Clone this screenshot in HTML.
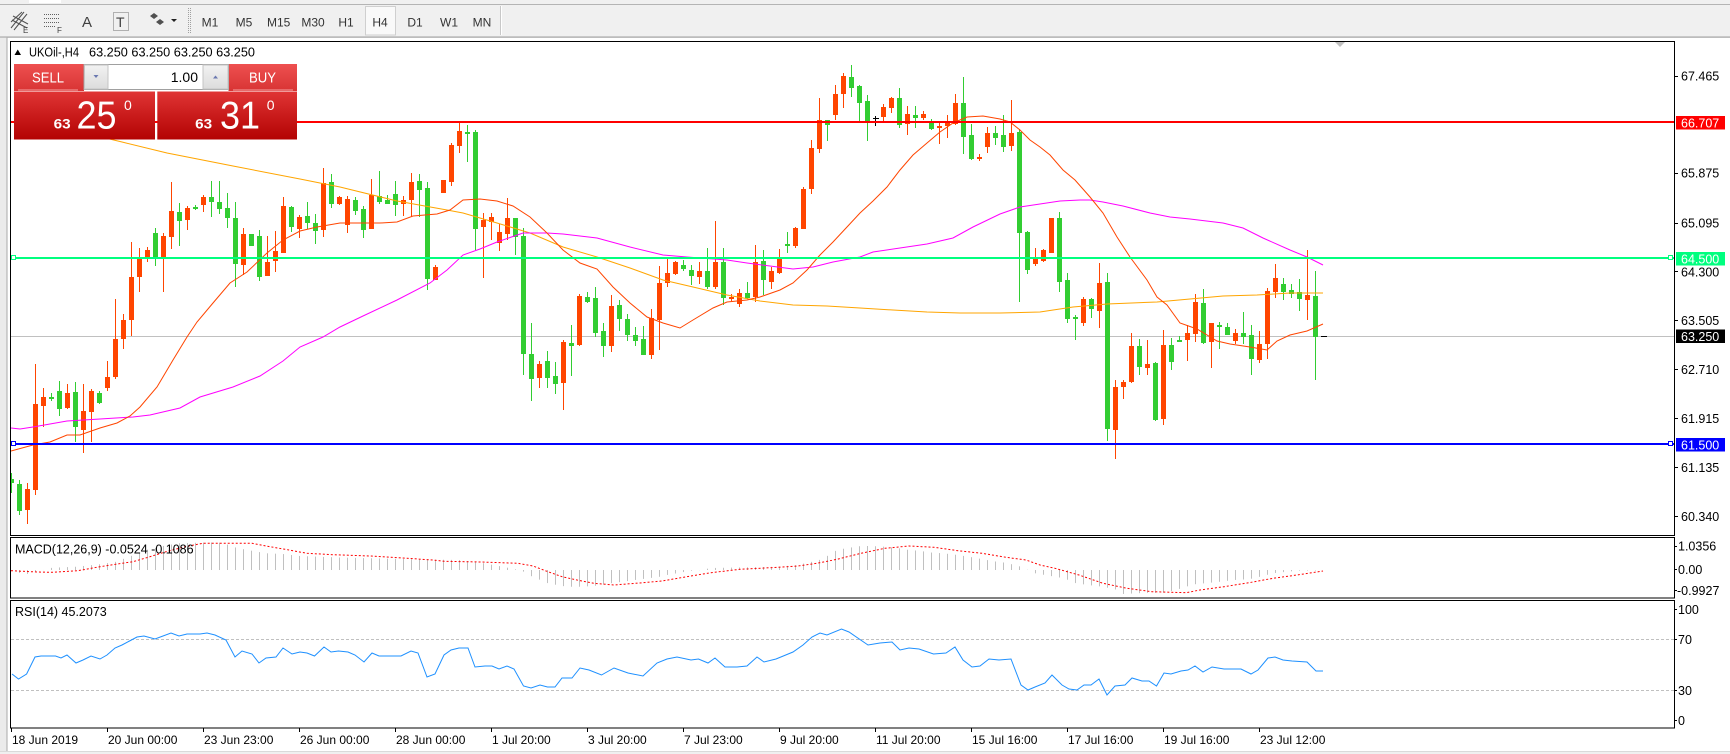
<!DOCTYPE html>
<html><head><meta charset="utf-8"><style>
html,body{margin:0;padding:0;background:#fff;}
svg{display:block;font-family:"Liberation Sans",Arial,sans-serif;}
</style></head><body>
<svg width="1730" height="754" viewBox="0 0 1730 754" xmlns="http://www.w3.org/2000/svg">
<defs>
<pattern id="hp" patternUnits="userSpaceOnUse" x="0" y="0" width="8" height="10"><rect x="3" y="0" width="1" height="10" fill="#C0C0C0"/></pattern>
<linearGradient id="hdr" x1="0" y1="0" x2="0" y2="1"><stop offset="0" stop-color="#EE5050"/><stop offset="1" stop-color="#D83434"/></linearGradient>
<linearGradient id="box" x1="0" y1="0" x2="0" y2="1"><stop offset="0" stop-color="#E03434"/><stop offset="1" stop-color="#B30303"/></linearGradient>
<linearGradient id="btn" x1="0" y1="0" x2="0" y2="1"><stop offset="0" stop-color="#F2F2F2"/><stop offset="1" stop-color="#DCDCDC"/></linearGradient>
<clipPath id="cm"><rect x="11" y="42" width="1664" height="493"/></clipPath>
<clipPath id="cmacd"><rect x="11" y="538" width="1664" height="60"/></clipPath>
<clipPath id="crsi"><rect x="11" y="601" width="1664" height="127"/></clipPath>
</defs>
<rect x="0" y="0" width="1730" height="754" fill="#fff"/>
<!-- toolbar -->
<rect x="0" y="0" width="1730" height="37" fill="#F0F0F0"/>
<rect x="0" y="4" width="1730" height="1" fill="#B4B4B4"/>
<rect x="29" y="0" width="32" height="3" fill="#fff"/>
<rect x="0" y="36.5" width="1730" height="1.2" fill="#A0A0A0"/>
<g stroke="#505050" stroke-width="1" fill="none">
<path d="M11 28 L24 12 M14 30 L27 14 M11 22 L22 12 M13 16 L28 24 M12 20 L27 28"/>
</g>
<text x="23" y="33" font-size="8" fill="#404040">E</text>
<g stroke="#606060" stroke-width="1" stroke-dasharray="1,1">
<path d="M44 14.5H60 M44 18.5H60 M44 22.5H60 M44 26.5H55"/>
</g>
<text x="57" y="33" font-size="8" fill="#404040">F</text>
<text x="82" y="27" font-size="15" fill="#404040">A</text>
<rect x="113.5" y="12.5" width="15" height="18" fill="none" stroke="#707070" stroke-dasharray="1,1"/>
<text x="116" y="27" font-size="14" fill="#404040">T</text>
<path d="M150 16 l4 -3 l4 3 l-4 3z M156 22 l4 -3 l4 3 l-4 3z" fill="#505050"/>
<path d="M171 19 h6 l-3 3z" fill="#202020"/>
<path d="M188.5 8V33" stroke="#A0A0A0" stroke-dasharray="1,1"/>
<path d="M190.5 8V33" stroke="#A0A0A0" stroke-dasharray="1,1"/>
<rect x="365.5" y="6.5" width="30" height="28.5" fill="#F9F9F9" stroke="#CFCFCF"/>
<g font-size="12" fill="#333">
<text x="210" y="26.5" text-anchor="middle">M1</text>
<text x="244" y="26.5" text-anchor="middle">M5</text>
<text x="278.7" y="26.5" text-anchor="middle">M15</text>
<text x="313" y="26.5" text-anchor="middle">M30</text>
<text x="346" y="26.5" text-anchor="middle">H1</text>
<text x="380" y="26.5" text-anchor="middle">H4</text>
<text x="415" y="26.5" text-anchor="middle">D1</text>
<text x="449" y="26.5" text-anchor="middle">W1</text>
<text x="482" y="26.5" text-anchor="middle">MN</text>
</g>
<rect x="500" y="6" width="1" height="29" fill="#C8C8C8"/>
<rect x="501" y="6" width="1" height="29" fill="#FFFFFF"/>
<!-- left window frame -->
<rect x="0" y="37.7" width="7" height="716" fill="#EBEBEB"/>
<rect x="6.5" y="37.7" width="1" height="716" fill="#A8A8A8"/>
<rect x="0" y="751" width="1730" height="3" fill="#F0F0F0"/>
<rect x="0" y="751" width="1730" height="1" fill="#DADADA"/>

<!-- main chart -->
<g clip-path="url(#cm)">
<rect x="11" y="336" width="1664" height="1" fill="#C0C0C0"/>
<!-- orange (bull) candles -->
<path fill="none" stroke="#FF4500" stroke-width="1" d="M27.5 483V524M35.5 364V495M43.5 388V427M67.5 384V409M83.5 384V453M91.5 389V442M107.5 361V391M115.5 299V379M123.5 314V349M131.5 242V336M139.5 248V292M147.5 247V262M163.5 233V292M171.5 182V249M187.5 206V230M203.5 195V212M243.5 228V275M267.5 236V276M275.5 231V272M283.5 197V253M299.5 215V238M323.5 168V237M339.5 196V205M347.5 196V233M371.5 179V229M403.5 196V216M411.5 173V217M435.5 265V280M443.5 180V193M451.5 143V186M459.5 123V153M483.5 213V278M491.5 213V240M499.5 224V251M507.5 198V240M539.5 361V388M563.5 340V410M579.5 294V346M611.5 295V352M651.5 309V359M659.5 266V350M667.5 259V287M675.5 261V275M699.5 262V284M715.5 221V289M731.5 294V301M739.5 289V307M755.5 245V302M771.5 267V289M779.5 249V274M795.5 227V248M803.5 187V229M811.5 140V194M819.5 98V153M835.5 85V120M843.5 73V108M883.5 104V123M891.5 97V113M907.5 106V135M923.5 111V120M939.5 121V144M947.5 115V138M955.5 94V125M979.5 154V161M987.5 127V153M1011.5 100V151M1035.5 248V266M1043.5 249V262M1051.5 218V253M1083.5 297V326M1099.5 263V328M1115.5 380V459M1123.5 380V399M1131.5 333V383M1147.5 340V375M1163.5 330V425M1187.5 325V361M1195.5 294V342M1211.5 323V368M1235.5 329V344M1259.5 331V363M1267.5 288V359M1275.5 264V298M1307.5 250V320"/>
<path fill="#FF4500" d="M25 489h5v21h-5zM33 404h5v86h-5zM41 397h5v9h-5zM65 393h5v15h-5zM81 411h5v19h-5zM89 391h5v21h-5zM105 377h5v11h-5zM113 339h5v38h-5zM121 320h5v19h-5zM129 277h5v43h-5zM137 257h5v20h-5zM145 250h5v7h-5zM161 236h5v23h-5zM169 211h5v26h-5zM185 208h5v12h-5zM201 197h5v8h-5zM241 234h5v31h-5zM265 262h5v14h-5zM273 251h5v10h-5zM281 206h5v47h-5zM297 217h5v12h-5zM321 183h5v47h-5zM337 197h5v7h-5zM345 199h5v26h-5zM369 195h5v34h-5zM401 200h5v4h-5zM409 182h5v18h-5zM433 267h5v13h-5zM441 180h5v13h-5zM449 145h5v37h-5zM457 131h5v15h-5zM481 220h5v7h-5zM489 217h5v5h-5zM497 232h5v11h-5zM505 218h5v16h-5zM537 364h5v14h-5zM561 342h5v41h-5zM577 296h5v49h-5zM609 306h5v40h-5zM649 318h5v37h-5zM657 283h5v37h-5zM665 273h5v10h-5zM673 262h5v12h-5zM697 271h5v6h-5zM713 262h5v25h-5zM729 297h5v2h-5zM737 293h5v11h-5zM753 262h5v35h-5zM769 271h5v11h-5zM777 258h5v15h-5zM793 228h5v18h-5zM801 189h5v40h-5zM809 148h5v41h-5zM817 120h5v29h-5zM833 94h5v21h-5zM841 76h5v18h-5zM881 107h5v10h-5zM889 98h5v10h-5zM905 114h5v10h-5zM921 114h5v4h-5zM937 126h5v2h-5zM945 121h5v5h-5zM953 103h5v21h-5zM977 157h5v2h-5zM985 133h5v14h-5zM1009 133h5v13h-5zM1033 259h5v5h-5zM1041 250h5v11h-5zM1049 218h5v35h-5zM1081 299h5v24h-5zM1097 283h5v28h-5zM1113 387h5v43h-5zM1121 382h5v5h-5zM1129 346h5v36h-5zM1145 364h5v4h-5zM1161 345h5v74h-5zM1185 333h5v7h-5zM1193 302h5v32h-5zM1209 323h5v19h-5zM1233 333h5v8h-5zM1257 344h5v16h-5zM1265 291h5v53h-5zM1273 278h5v14h-5zM1305 295h5v5h-5z"/>
<!-- green (bear) candles -->
<path fill="none" stroke="#32CD32" stroke-width="1" d="M11.5 473V493M19.5 480V515M51.5 393V401M59.5 381V416M75.5 382V442M99.5 391V404M155.5 228V266M179.5 203V246M195.5 205V210M211.5 181V217M219.5 181V214M227.5 193V228M235.5 202V287M259.5 230V281M291.5 206V232M307.5 202V229M315.5 214V244M331.5 174V208M355.5 197V215M363.5 206V238M379.5 171V204M387.5 195V204M395.5 181V216M419.5 174V217M427.5 182V290M467.5 125V162M475.5 130V250M515.5 218V255M523.5 228V375M531.5 323V401M547.5 351V388M555.5 362V394M571.5 325V376M587.5 292V303M595.5 287V337M603.5 323V357M619.5 300V331M627.5 314V341M635.5 327V346M643.5 326V355M683.5 260V271M691.5 265V285M707.5 248V289M723.5 248V305M747.5 282V299M763.5 250V295M787.5 232V253M827.5 120V141M851.5 65V97M859.5 85V122M867.5 95V141M899.5 88V128M915.5 106V128M931.5 119V130M963.5 77V154M971.5 124V160M995.5 126V145M1003.5 115V152M1019.5 129V302M1027.5 231V274M1059.5 212V292M1067.5 273V323M1075.5 315V340M1091.5 298V318M1107.5 273V441M1139.5 339V375M1155.5 362V421M1171.5 338V370M1179.5 336V341M1203.5 289V344M1219.5 322V349M1227.5 323V335M1243.5 312V344M1251.5 325V375M1283.5 278V300M1291.5 284V298M1299.5 279V311M1315.5 271V380"/>
<path fill="#32CD32" d="M9 479h5v4h-5zM17 484h5v27h-5zM49 397h5v2h-5zM57 391h5v18h-5zM73 392h5v35h-5zM97 393h5v10h-5zM153 233h5v25h-5zM177 212h5v9h-5zM193 207h5v2h-5zM209 197h5v5h-5zM217 202h5v7h-5zM225 208h5v10h-5zM233 218h5v46h-5zM249 234h5v12h-5zM257 236h5v41h-5zM289 207h5v20h-5zM305 216h5v7h-5zM313 223h5v8h-5zM329 182h5v22h-5zM353 200h5v11h-5zM361 209h5v21h-5zM377 196h5v6h-5zM385 200h5v4h-5zM393 194h5v11h-5zM417 181h5v9h-5zM425 188h5v91h-5zM465 132h5v2h-5zM473 132h5v97h-5zM513 218h5v19h-5zM521 236h5v118h-5zM529 354h5v25h-5zM545 361h5v17h-5zM553 376h5v8h-5zM569 343h5v3h-5zM585 297h5v5h-5zM593 298h5v35h-5zM601 331h5v15h-5zM617 305h5v14h-5zM625 319h5v16h-5zM633 335h5v6h-5zM641 339h5v16h-5zM681 265h5v4h-5zM689 270h5v6h-5zM705 271h5v16h-5zM721 262h5v36h-5zM745 293h5v5h-5zM761 261h5v19h-5zM785 244h5v2h-5zM825 120h5v5h-5zM849 77h5v11h-5zM857 86h5v17h-5zM865 101h5v20h-5zM897 98h5v27h-5zM913 115h5v3h-5zM929 121h5v8h-5zM961 103h5v34h-5zM969 135h5v24h-5zM993 133h5v5h-5zM1001 135h5v12h-5zM1017 132h5v101h-5zM1025 232h5v38h-5zM1057 218h5v64h-5zM1065 280h5v39h-5zM1073 317h5v2h-5zM1089 299h5v10h-5zM1105 282h5v147h-5zM1137 346h5v21h-5zM1153 363h5v57h-5zM1169 345h5v17h-5zM1177 340h5v2h-5zM1201 303h5v40h-5zM1217 325h5v2h-5zM1225 327h5v8h-5zM1241 333h5v4h-5zM1249 335h5v24h-5zM1281 284h5v8h-5zM1289 290h5v4h-5zM1297 292h5v7h-5zM1313 296h5v41h-5z"/>
<path d="M875.5 116V126 M873 118.5H879" stroke="#000" stroke-width="1"/>
<!-- moving averages -->
<polyline fill="none" stroke="#FFA500" stroke-width="1" points="14,116 122,142 167,153 233,166 300,179 340,187 397,201 447,210 463,213 497,223 530,233 563,247 597,257 630,268 663,280 693,287 727,295 760,301 793,305 827,306 860,308 893,310 927,312 960,313 1000,313 1040,312 1073,307 1107,304 1157,302 1190,299 1223,296 1257,295 1290,293 1323,293"/>
<polyline fill="none" stroke="#FF00FF" stroke-width="1" points="11,428 20,429 33,427 67,421 100,419 133,417 150,415 180,408 200,397 233,387 260,376 283,361 300,347 323,337 340,327 363,316 397,300 430,283 447,270 463,255 480,249 497,242 523,233 547,233 563,234 597,238 630,247 663,255 687,257 727,260 747,263 770,266 793,269 813,267 833,262 860,257 873,252 900,248 927,244 953,238 973,227 1000,214 1020,207 1040,204 1060,201 1080,200 1090,200 1103,202 1123,206 1150,213 1170,217 1190,219 1223,223 1243,228 1263,238 1290,250 1307,257 1323,265"/>
<polyline fill="none" stroke="#FF4500" stroke-width="1" points="11,451 33,445 50,442 67,435 80,435 100,428 117,423 130,416 140,407 157,387 173,360 187,337 197,322 213,303 230,283 247,272 267,253 283,240 300,231 317,227 340,223 380,223 397,222 413,216 437,214 450,210 463,200 480,199 497,201 513,206 530,217 547,233 563,250 580,263 597,269 613,287 630,303 647,317 663,323 680,328 693,320 713,308 727,302 747,300 760,297 780,290 793,283 807,270 820,255 833,242 847,227 860,213 873,201 887,187 900,170 913,155 927,143 940,132 953,123 967,117 983,116 1000,119 1010,122 1020,130 1030,140 1040,147 1050,155 1063,170 1075,180 1090,197 1103,213 1117,237 1130,257 1147,280 1157,297 1167,305 1180,323 1197,329 1217,341 1230,344 1250,347 1267,350 1277,341 1290,335 1307,331 1323,324"/>
<path d="M1321 336.5H1327" stroke="#000"/>
<!-- horizontal lines -->
<rect x="11" y="121" width="1664" height="2" fill="#FF0000"/>
<rect x="11" y="257" width="1664" height="2" fill="#00FF7F"/>
<rect x="11" y="443" width="1664" height="2" fill="#0000FF"/>
<rect x="11.5" y="255.5" width="4" height="4" fill="#fff" stroke="#00FF7F"/>
<rect x="1668.5" y="255.5" width="4" height="4" fill="#fff" stroke="#00FF7F"/>
<rect x="11.5" y="441.5" width="4" height="4" fill="#fff" stroke="#0000FF"/>
<rect x="1668.5" y="441.5" width="4" height="4" fill="#fff" stroke="#0000FF"/>
<path d="M1335 42H1345L1340 47Z" fill="#C0C0C0"/>
</g>

<!-- MACD -->
<g clip-path="url(#cmacd)">
<polygon fill="url(#hp)" points="11,570 20,573 28,574 40,571 52,567.7 76,566.7 100,564.3 116,561.7 131,556 146,550 163,546 179,543.3 196,542.7 213,542.5 220,542.7 228,544.7 237,548 252,550.7 266,553.3 283,554 300,556 340,557.5 400,559 459,560 481,562.7 503,566.7 522,570.7 531,576 548,583.3 562,586 571,586.7 580,586.7 594,586 611,583.3 628,581 660,576.7 667,575 677,573.3 691,570.7 701,570 711,568 778,566.7 797,565 812,561.7 822,559.3 837,550 846,548.3 861,546 871,546 885,546.7 899,548.3 909,550 919,550.7 933,552.7 943,553.3 958,555 972,557.3 987,560 997,561.7 1006,562.7 1021,566.7 1035,573.3 1045,575 1055,576.7 1064,578.3 1076,583.3 1088,585 1103,586.7 1118,590 1123,594 1137,593.3 1152,592.7 1161,593.3 1176,590 1186,586.7 1195,584.3 1205,583.3 1220,581.7 1234,580 1249,579.3 1258,577.3 1273,573.3 1287,571.7 1300,570.5 1317,570.5 1317,570 11,570"/>
<polyline fill="none" stroke="#FF0000" stroke-width="1" stroke-dasharray="2,2" points="11,570.7 37,572 52,572.3 78,570.7 100,566.7 122,563.3 133,561.7 148,557.3 166,551.7 185,546.7 203,543.3 222,543.3 252,543.3 266,546 285,549.3 307,553.3 333,554.7 370,556 407,558.3 433,560 444,561.3 481,562 518,563.3 533,566 548,571.7 562,576.7 577,580 594,583.3 614,585 643,582.7 662,581 691,576 711,572.7 740,569.3 778,567.3 798,566 817,563.3 837,559.3 861,553.3 885,548.3 909,546 934,547.3 958,550.7 982,553.3 1006,557.3 1026,560 1040,565 1055,568.3 1079,575 1103,583.3 1127,588.3 1152,591.7 1186,592.7 1200,590 1224,586.7 1249,582.7 1273,578.3 1297,575 1323,571"/>
</g>
<!-- RSI -->
<g clip-path="url(#crsi)">
<path d="M11 639.5H1675 M11 690.5H1675" stroke="#C0C0C0" stroke-width="1" stroke-dasharray="3,2"/>
<polyline fill="none" stroke="#1E90FF" stroke-width="1" points="12,674 18.5,679 26.6,674 35,657 41,656 55.5,656 61,658 67,655 76,663 83,660 91,656 100,659 107,655 115,648 122,645 129.5,641 137,637 144,636 155,639 163,636 171,633 179,636 187,634 200,634 207,633 215,635 226,640 235,657 242,651 252,654 259,663 266,658 276,657 283,648 292,654 300,652 307,653 314.5,656 324,647 331,652 338.5,651 348,652 355,655 364,662 372,653 379,656 401,656 411,651 418,653 427,677 435,674 444,655 451,650 459,648 468,648 475,667 485,666 492,666 499,669 507,666 514,669 523.5,686 531,688 540,685 547.5,687 555,687 562,678 572,678 580,668 589,670 601.5,675 614,668 628,673 643,676 657,663 667,659 677,657 691,660 698.5,659 708,663 715,658 725,667 737,667 747,666 757,657 764,662 776,659 793,652 803,645 812,637 820,633 827,635 841.5,629 849,632 868,645 880,643 892,642 900,650 909,648 919,649 933.5,654 946,653 955,647 963,660 972,667 980,666 989,659 999,660 1011,659 1021,685 1028,690 1035,687 1045,683 1052,675 1062,685 1069,689 1077,690 1084,685 1091,685 1099,679 1107,695 1115,686 1125,685 1132,678 1142,681 1149,681 1156.5,686 1164,673 1171,674 1181,671 1188,670 1195,666 1203,672 1212,667 1224,669 1241,669 1251,674 1258,670 1268,658 1275,657 1283,660 1292,661 1307,662 1316,671 1323,671"/>
</g>

<!-- panel borders -->
<g fill="none" stroke="#000" stroke-width="1">
<rect x="10.5" y="41.5" width="1664" height="494"/>
<rect x="10.5" y="537.5" width="1664" height="60.5"/>
<rect x="10.5" y="600.5" width="1664" height="127.5"/>
<path d="M1675 76.5h3M1675 173.5h3M1675 223.5h3M1675 271.5h3M1675 320.5h3M1675 369.5h3M1675 418.5h3M1675 467.5h3M1675 516.5h3M1675 546.5h2M1675 569.5h2M1675 590.5h2M1675 609.5h2M1675 639.5h2M1675 690.5h2M1675 720.5h2"/>
<path d="M11.5 728V732M107.5 728V732M203.5 728V732M299.5 728V732M395.5 728V732M491.5 728V732M587.5 728V732M683.5 728V732M779.5 728V732M875.5 728V732M971.5 728V732M1067.5 728V732M1163.5 728V732M1259.5 728V732"/>
</g>

<!-- price axis -->
<rect x="1676" y="116" width="49" height="13.5" fill="#FF0000"/>
<rect x="1676" y="252" width="49" height="13.5" fill="#00FF7F"/>
<rect x="1676" y="329.5" width="49" height="13.5" fill="#000"/>
<rect x="1676" y="438" width="49" height="13.5" fill="#0000FF"/>
<g font-size="12.5" fill="#000">
<text x="1681" y="80.5">67.465</text>
<text x="1681" y="127.3" fill="#fff">66.707</text>
<text x="1681" y="177.5">65.875</text>
<text x="1681" y="227.5">65.095</text>
<text x="1681" y="263.3" fill="#fff">64.500</text>
<text x="1681" y="276.3">64.300</text>
<text x="1681" y="325.2">63.505</text>
<text x="1681" y="340.8" fill="#fff">63.250</text>
<text x="1681" y="373.8">62.710</text>
<text x="1681" y="423.2">61.915</text>
<text x="1681" y="449.5" fill="#fff">61.500</text>
<text x="1681" y="472.2">61.135</text>
<text x="1681" y="521.2">60.340</text>
<text x="1678" y="550.5">1.0356</text>
<text x="1678" y="573.8">0.00</text>
<text x="1677" y="595.2">-0.9927</text>
<text x="1678" y="613.8">100</text>
<text x="1678" y="643.8">70</text>
<text x="1678" y="694.8">30</text>
<text x="1678" y="724.8">0</text>
<text x="15" y="553.3">MACD(12,26,9) -0.0524 -0.1086</text>
<text x="15" y="616">RSI(14) 45.2073</text>
<text x="29" y="56.7" textLength="50" lengthAdjust="spacingAndGlyphs">UKOil-,H4</text>
<text x="89" y="56.7" textLength="166" lengthAdjust="spacingAndGlyphs">63.250 63.250 63.250 63.250</text>
</g>
<path d="M14.5 55H21L17.75 49.5Z" fill="#000"/>
<!-- time axis -->
<g font-size="12" fill="#000">
<text x="12" y="744">18 Jun 2019</text>
<text x="108" y="744">20 Jun 00:00</text>
<text x="204" y="744">23 Jun 23:00</text>
<text x="300" y="744">26 Jun 00:00</text>
<text x="396" y="744">28 Jun 00:00</text>
<text x="492" y="744">1 Jul 20:00</text>
<text x="588" y="744">3 Jul 20:00</text>
<text x="684" y="744">7 Jul 23:00</text>
<text x="780" y="744">9 Jul 20:00</text>
<text x="876" y="744">11 Jul 20:00</text>
<text x="972" y="744">15 Jul 16:00</text>
<text x="1068" y="744">17 Jul 16:00</text>
<text x="1164" y="744">19 Jul 16:00</text>
<text x="1260" y="744">23 Jul 12:00</text>
</g>

<!-- one-click trading panel -->
<g>
<rect x="14" y="64" width="70" height="27" fill="url(#hdr)"/>
<rect x="228.5" y="64" width="68.5" height="27" fill="url(#hdr)"/>
<rect x="18" y="89.5" width="60" height="1" fill="#F4A0A0"/>
<rect x="233" y="89.5" width="60" height="1" fill="#F4A0A0"/>
<rect x="83.5" y="64" width="145.5" height="26" fill="#fff"/>
<rect x="84" y="64.5" width="144.5" height="25" fill="#fff" stroke="#A0A0A0"/>
<rect x="84.5" y="65" width="23.5" height="24" fill="url(#btn)" stroke="#C4C4C4"/>
<rect x="203" y="65" width="25" height="24" fill="url(#btn)" stroke="#C4C4C4"/>
<path d="M93.5 75H98.5L96 78Z" fill="#6A78B0"/>
<path d="M213 78.5H218L215.5 75.5Z" fill="#6A78B0"/>
<text x="198" y="82" font-size="14" text-anchor="end" fill="#000">1.00</text>
<text x="32" y="82.5" font-size="15" fill="#fff" textLength="32" lengthAdjust="spacingAndGlyphs">SELL</text>
<text x="249" y="82.5" font-size="15" fill="#fff" textLength="27" lengthAdjust="spacingAndGlyphs">BUY</text>
<rect x="14" y="91.5" width="141" height="48" fill="url(#box)"/>
<rect x="157.3" y="91.5" width="139.7" height="48" fill="url(#box)"/>
<text x="53.6" y="128.3" font-size="14" font-weight="bold" fill="#fff" textLength="17" lengthAdjust="spacingAndGlyphs">63</text>
<text x="76.5" y="128.5" font-size="39" fill="#fff" textLength="40" lengthAdjust="spacingAndGlyphs">25</text>
<text x="124" y="110" font-size="14" fill="#fff">0</text>
<text x="195.2" y="128.3" font-size="14" font-weight="bold" fill="#fff" textLength="17" lengthAdjust="spacingAndGlyphs">63</text>
<text x="220" y="128.5" font-size="39" fill="#fff" textLength="40" lengthAdjust="spacingAndGlyphs">31</text>
<text x="266.7" y="110" font-size="14" fill="#fff">0</text>
</g>
</svg>
</body></html>
